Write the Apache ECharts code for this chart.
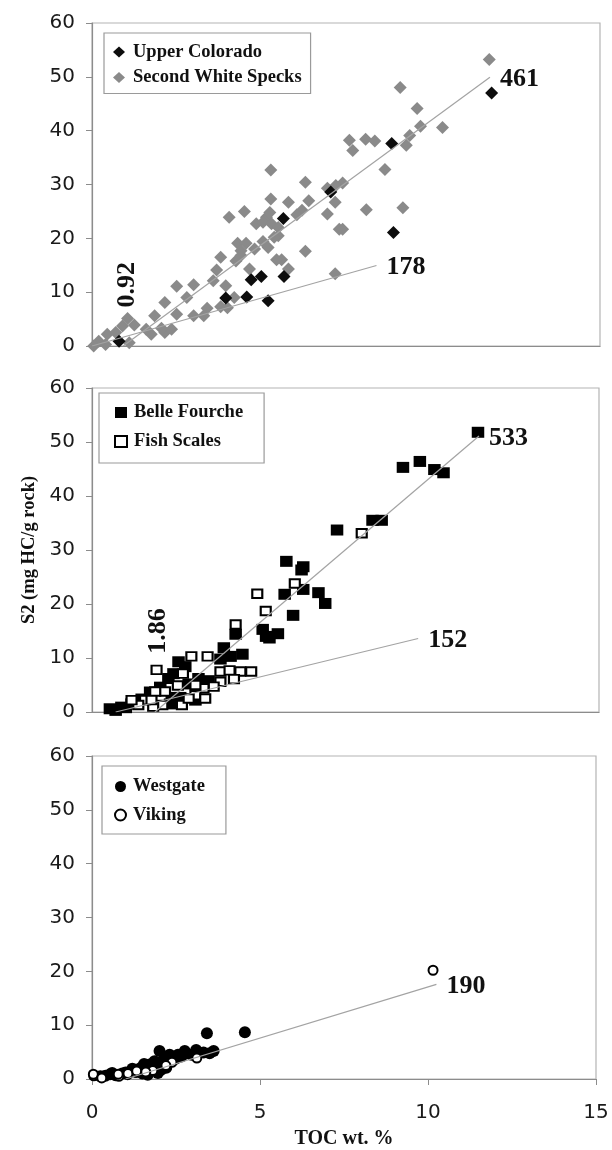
<!DOCTYPE html>
<html>
<head>
<meta charset="utf-8">
<script src="https://cdn.jsdelivr.net/npm/echarts@6/dist/echarts.min.js"></script>
<style>
  html, body { margin: 0; padding: 0; background: #fff; }
  #chart { width: 612px; height: 1150px; }
</style>
</head>
<body>
<div id="chart"></div>
<script>
// S2 versus TOC for six units, grouped in three stacked panels.
// Each point is [TOC wt. %, S2 mg HC/g rock].

const upperColorado = [
  [11.8, 47.0], [8.85, 37.6], [7.05, 28.6], [5.65, 23.7], [8.9, 21.1],
  [4.7, 12.3], [5.0, 12.9], [5.67, 12.9], [3.95, 8.9], [4.57, 9.1],
  [5.2, 8.4], [0.8, 0.9]
];

const secondWhiteSpecks = [
  [11.73, 53.2], [9.1, 48.0], [9.6, 44.1], [9.7, 40.8], [10.35, 40.6],
  [9.38, 39.1], [9.28, 37.3], [7.6, 38.2], [7.7, 36.3], [8.08, 38.4],
  [8.35, 38.1], [8.65, 32.8], [5.28, 32.7], [6.3, 30.4], [7.4, 30.3],
  [7.2, 29.8], [6.95, 29.3], [7.18, 26.7], [6.4, 27.0], [5.8, 26.7],
  [5.28, 27.3], [6.2, 25.2], [6.05, 24.4], [6.95, 24.5], [8.1, 25.3],
  [9.18, 25.7], [4.5, 25.0], [4.05, 23.9], [4.85, 22.7], [5.15, 23.9],
  [5.25, 24.8], [5.05, 23.0], [5.3, 22.7], [5.5, 22.0], [5.5, 20.5],
  [5.38, 20.2], [7.3, 21.7], [7.4, 21.7], [4.3, 19.1], [4.55, 19.1],
  [4.4, 17.7], [4.8, 18.0], [5.05, 19.4], [5.2, 18.3], [6.3, 17.6],
  [4.25, 15.8], [3.8, 16.5], [5.6, 16.0], [5.8, 14.3], [5.45, 16.0],
  [3.68, 14.1], [4.65, 14.3], [4.4, 16.8], [3.95, 11.2], [3.58, 12.1],
  [3.0, 11.4], [2.5, 11.1], [2.8, 9.0], [2.15, 8.1], [7.18, 13.4],
  [4.2, 9.0], [3.8, 7.3], [4.0, 7.1], [3.4, 7.0], [3.0, 5.6],
  [3.3, 5.6], [2.5, 5.9], [1.85, 5.6], [1.05, 5.1], [1.25, 3.9],
  [1.6, 3.1], [1.75, 2.2], [2.15, 2.5], [2.35, 3.1], [2.05, 3.3],
  [0.9, 3.7], [0.7, 2.5], [0.45, 2.2], [0.2, 0.9], [0.05, 0.0],
  [0.4, 0.3], [1.1, 0.6]
];

const belleFourche = [
  [11.42, 51.8], [9.2, 45.3], [9.7, 46.4], [10.13, 44.9], [10.4, 44.3],
  [8.3, 35.5], [8.57, 35.5], [7.25, 33.7], [5.75, 27.9], [6.2, 26.3],
  [6.25, 26.9], [6.25, 22.7], [5.7, 21.8], [6.7, 22.1], [6.9, 20.1],
  [5.95, 17.9], [5.05, 15.3], [5.25, 13.7], [5.5, 14.5], [5.15, 14.0],
  [4.25, 14.4], [3.9, 11.9], [4.1, 10.3], [4.45, 10.7], [3.8, 9.8],
  [2.56, 9.3], [2.76, 8.4], [2.41, 7.1], [2.26, 6.2], [2.02, 4.6],
  [1.72, 3.7], [1.47, 2.4], [1.17, 1.5], [0.87, 0.9], [0.53, 0.6],
  [2.31, 1.5], [2.36, 2.7], [2.86, 5.2], [3.15, 6.2], [3.45, 5.8],
  [3.06, 2.2], [2.61, 2.7], [0.7, 0.3], [1.0, 0.8]
];

const fishScales = [
  [7.98, 33.1], [6.0, 23.8], [4.89, 21.9], [5.14, 18.7], [4.25, 16.2],
  [1.91, 7.8], [2.94, 10.3], [3.42, 10.3], [2.69, 7.1], [2.54, 4.9],
  [2.16, 3.8], [1.87, 3.8], [3.8, 7.5], [4.07, 7.7], [4.39, 7.5],
  [4.71, 7.5], [4.2, 6.1], [3.8, 5.6], [3.6, 4.7], [3.3, 4.4],
  [3.06, 3.1], [3.35, 2.5], [2.66, 1.3], [2.08, 1.3], [1.81, 1.0],
  [1.57, 2.2], [1.37, 1.3], [1.76, 2.2], [1.17, 2.2], [2.86, 2.5],
  [3.06, 5.0]
];

const westgate = [
  [4.55, 8.7], [3.42, 8.5], [3.62, 5.2], [3.32, 4.9], [2.76, 5.2],
  [2.56, 4.5], [2.31, 4.5], [2.01, 5.2], [2.16, 3.9], [1.86, 3.3],
  [1.71, 2.7], [2.06, 1.7], [1.46, 2.1], [1.16, 1.4], [0.6, 1.1],
  [0.25, 0.5], [1.66, 0.8], [1.96, 1.1], [2.21, 2.1], [2.66, 4.2],
  [2.96, 4.5], [1.64, 2.6], [0.54, 0.9], [0.9, 1.0], [1.3, 1.7],
  [2.4, 3.4], [1.9, 2.4], [1.5, 1.0], [3.1, 5.4], [2.0, 3.0],
  [0.4, 0.6], [0.7, 0.7], [1.0, 1.2], [1.2, 1.9], [1.4, 1.5],
  [1.75, 1.9], [2.1, 2.6], [2.5, 3.8], [2.8, 4.8], [3.5, 4.8],
  [1.55, 2.8], [2.25, 3.3]
];

const viking = [
  [10.15, 20.2], [3.12, 3.9], [2.38, 3.1], [1.81, 1.6], [1.31, 1.2],
  [1.06, 0.8], [0.8, 0.5], [0.05, 0.6], [0.04, 0.9], [0.29, 0.2],
  [0.78, 0.9], [1.07, 1.0], [1.33, 1.5], [1.6, 1.3], [2.2, 2.5]
];

// Trend lines: hydrogen index (slope x 100), x-intercept and TOC at the end.
const trendHI     = [461, 178, 533, 152, 190];
const trendStartX = [0.92, 0, 1.86, 0.7, 1.0];
const trendEndX   = [11.75, 8.4, 11.45, 9.65, 10.25];
const trendPanel  = [0, 0, 1, 1, 2];

// Intercept values written beside the steep lines.
const interceptText  = ['0.92', '1.86'];
const interceptPanel = [0, 1];

const xTickStep = 5, xMax = 15;
const yTickStep = 10, yMax = 60;

const serif = 'Liberation Serif, Times New Roman, serif';
const sans = 'DejaVu Sans, Arial, sans-serif';

const grids = [
  { left: 92, top: 23,  width: 508, height: 323 },
  { left: 92, top: 388, width: 507, height: 324 },
  { left: 92, top: 756, width: 504, height: 324 }
];

function xAxisFor(i) {
  const last = i === 2;
  return {
    type: 'value', gridIndex: i, min: 0, max: xMax, interval: xTickStep,
    axisLine: { onZero: false, lineStyle: { color: '#8c8c8c', width: 1.2 } },
    axisTick: { show: last, length: 6, lineStyle: { color: '#8c8c8c' } },
    axisLabel: { show: last, margin: 24, fontFamily: sans, fontSize: 20, color: '#1a1a1a' },
    splitLine: { show: false },
    name: last ? 'TOC wt. %' : '',
    nameLocation: 'middle', nameGap: 50,
    nameTextStyle: { fontFamily: serif, fontWeight: 'bold', fontSize: 20, color: '#111' }
  };
}

function yAxisFor(i) {
  return {
    type: 'value', gridIndex: i, min: 0, max: yMax, interval: yTickStep,
    axisLine: { show: true, onZero: false, lineStyle: { color: '#8c8c8c', width: 1.2 } },
    axisTick: { show: true, length: 6, lineStyle: { color: '#8c8c8c' } },
    axisLabel: { margin: 17, fontFamily: sans, fontSize: 20, color: '#1a1a1a' },
    splitLine: { show: false },
    name: i === 1 ? 'S2 (mg HC/g rock)' : '',
    nameLocation: 'middle', nameRotate: 90, nameGap: 46,
    nameTextStyle: { fontFamily: serif, fontWeight: 'bold', fontSize: 18.5, color: '#111' }
  };
}

function pointSeries(name, data, panel, style) {
  return Object.assign({
    name: name, type: 'scatter', data: data,
    xAxisIndex: panel, yAxisIndex: panel,
    emphasis: { disabled: true }
  }, style);
}

const filled = (color) => ({ color: color, borderWidth: 0, opacity: 1 });
const hollow = { color: '#ffffff', borderColor: '#000000', borderWidth: 2, opacity: 1 };

const series = [
  pointSeries('Second White Specks', secondWhiteSpecks, 0,
    { symbol: 'diamond', symbolSize: [13, 13], itemStyle: filled('#8a8a8a'), z: 2 }),
  pointSeries('Upper Colorado', upperColorado, 0,
    { symbol: 'diamond', symbolSize: [13, 13], itemStyle: filled('#0d0d0d'), z: 3 }),
  pointSeries('Belle Fourche', belleFourche, 1,
    { symbol: 'rect', symbolSize: [12.5, 11], itemStyle: filled('#000000'), z: 2 }),
  pointSeries('Fish Scales', fishScales, 1,
    { symbol: 'rect', symbolSize: [10, 8.5], itemStyle: hollow, z: 3 }),
  pointSeries('Westgate', westgate, 2,
    { symbol: 'circle', symbolSize: 12, itemStyle: filled('#000000'), z: 2 }),
  pointSeries('Viking', viking, 2,
    { symbol: 'circle', symbolSize: 9, itemStyle: hollow, z: 3 })
];

// Trend lines with their HI value printed past the upper end.
trendHI.forEach((hi, k) => {
  const p = trendPanel[k];
  const slope = hi / 100;
  const x0 = trendStartX[k], x1 = trendEndX[k];
  series.push({
    type: 'line', xAxisIndex: p, yAxisIndex: p, silent: true,
    symbol: 'none', z: 4,
    lineStyle: { color: '#a3a3a3', width: 1.2 },
    data: [[x0, 0], [x1, slope * (x1 - x0)]],
    endLabel: {
      show: true, formatter: String(hi), distance: 10, offset: [0, 2],
      fontFamily: serif, fontWeight: 'bold', fontSize: 26, color: '#111'
    }
  });
});

// Rotated intercept labels, set just above each steep line's base.
const interceptAt = [[1.05, 11.4], [1.96, 15.0]];
interceptText.forEach((t, k) => {
  const p = interceptPanel[k];
  series.push({
    type: 'scatter', xAxisIndex: p, yAxisIndex: p, silent: true,
    symbolSize: 1, itemStyle: { color: 'rgba(0,0,0,0)', opacity: 1 }, z: 5,
    emphasis: { disabled: true },
    data: [interceptAt[k]],
    label: {
      show: true, position: 'inside', rotate: 90, formatter: t, opacity: 1,
      fontFamily: serif, fontWeight: 'bold', fontSize: 26, color: '#111'
    }
  });
});

function legendFor(names, left, top, padding, gap, textPad) {
  return {
    data: names, orient: 'vertical', left: left, top: top,
    padding: padding, itemGap: gap, itemWidth: 12, itemHeight: 11,
    borderColor: '#9a9a9a', borderWidth: 1.2, backgroundColor: '#fff',
    selectedMode: false,
    textStyle: {
      fontFamily: serif, fontWeight: 'bold', fontSize: 18.5, color: '#111',
      lineHeight: 20, padding: [0, 0, 0, textPad]
    }
  };
}

const option = {
  animation: false,
  backgroundColor: '#ffffff',
  grid: grids.map(g => Object.assign({
    show: true, borderColor: '#b4b4b4', borderWidth: 1.2, backgroundColor: 'transparent'
  }, g)),
  xAxis: [0, 1, 2].map(xAxisFor),
  yAxis: [0, 1, 2].map(yAxisFor),
  legend: [
    legendFor(['Upper Colorado', 'Second White Specks'], 104, 33, [9, 9, 6, 9], 5.5, 3),
    legendFor(['Belle Fourche', 'Fish Scales'], 99, 393, [9.5, 21, 11.5, 15], 9, 2),
    legendFor(['Westgate', 'Viking'], 102, 766, [10.5, 21, 9, 12], 8.5, 1.5)
  ],
  series: series
};

const chart = echarts.init(document.getElementById('chart'), null, { renderer: 'canvas' });
chart.setOption(option);
</script>
</body>
</html>
